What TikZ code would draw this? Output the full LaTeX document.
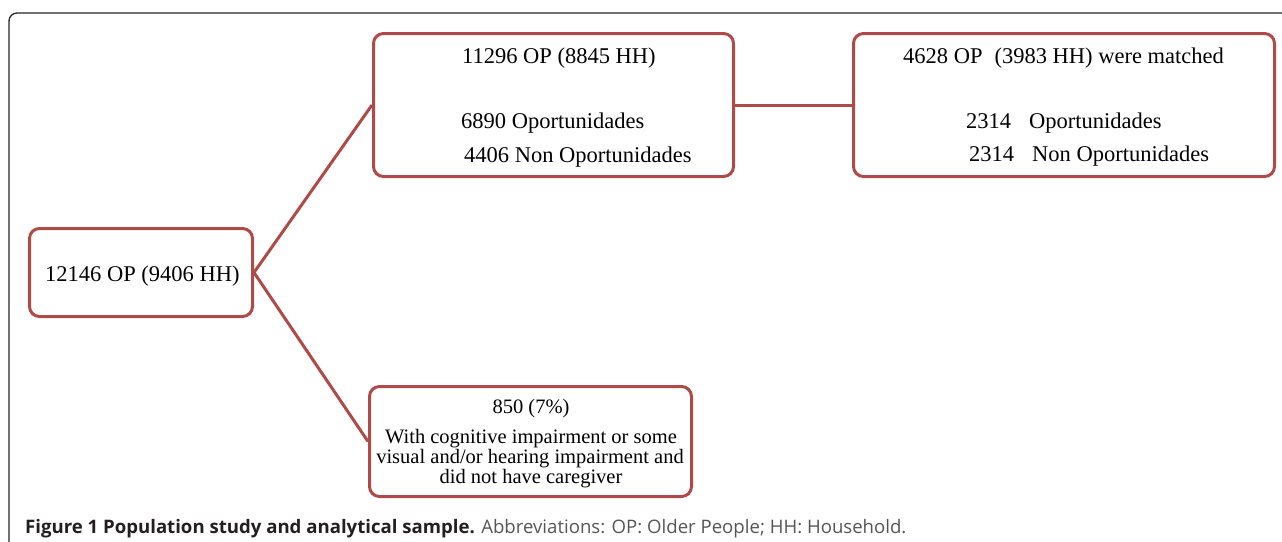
\documentclass[tikz,border=0pt]{standalone}
\usepackage{fontspec}
\setmainfont{Liberation Serif}
\newfontfamily\capfont{Open Sans}
\definecolor{boxred}{RGB}{176,74,72}
\definecolor{capdark}{RGB}{35,31,32}
\definecolor{capgray}{RGB}{85,85,85}
\tikzset{
  fbox/.style={draw=boxred, line width=3pt, rounded corners=10pt, inner sep=0pt, fill=white},
  conn/.style={draw=boxred, line width=3pt},
  big/.style={font=\fontsize{22.5}{26}\selectfont, inner sep=0pt, anchor=base west},
  small/.style={font=\fontsize{20.5}{22}\selectfont, inner sep=0pt, anchor=base},
}
\begin{document}
\begin{tikzpicture}[x=1pt,y=-1pt]
\useasboundingbox (0,0) rectangle (1282,541);
\clip (0,0) rectangle (1282,541);
\fill[white] (0,0) rectangle (1282,541);
% frame
\draw[line width=1.3pt, black!85, rounded corners=8pt] (9,560) -- (9,13) -- (1300,13);
% boxes
\node[fbox, minimum width=223pt, minimum height=88pt] (A) at (141,272.5) {};
\node[fbox, minimum width=360pt, minimum height=143pt] (B) at (553.5,105) {};
\node[fbox, minimum width=421pt, minimum height=143pt] (C) at (1064,105) {};
\node[fbox, minimum width=322pt, minimum height=110pt] (D) at (530.5,441.5) {};
% connectors
\draw[conn] (A.east) -- (B.west);
\draw[conn] (A.east) -- (D.west);
\draw[conn] (B.east) -- (C.west);
% texts
\node[big] (a1) at (45,281) {12146 OP (9406 HH)};
\node[big] (b1) at (462,63) {11296 OP (8845 HH)};
\node[big] (b2) at (461,128) {6890 Oportunidades};
\node[big] (b3) at (464,162) {4406 Non Oportunidades};
\node[big] (c1) at (903,63) {4628 OP\hspace{12pt}(3983 HH) were matched};
\node[big] (c2) at (966,128) {2314\hspace{18pt}Oportunidades};
\node[big] (c3) at (969,161) {2314\hspace{18pt}Non Oportunidades};
\node[small] (d1) at (531,413) {850 (7\%)};
\node[small] (d2) at (531,443) {With cognitive impairment or some};
\node[small] (d3) at (530,463) {visual and/or hearing impairment and};
\node[small] (d4) at (531,483) {did not have caregiver};
% caption
\node[inner sep=0pt, anchor=base west, font=\capfont\fontsize{18.6}{20}\selectfont] (cap) at (25,533)
  {\textcolor{capdark}{\bfseries Figure 1 Population study and analytical sample.} \textcolor{capgray}{Abbreviations: OP: Older People; HH: Household.}};
\end{tikzpicture}
\end{document}
